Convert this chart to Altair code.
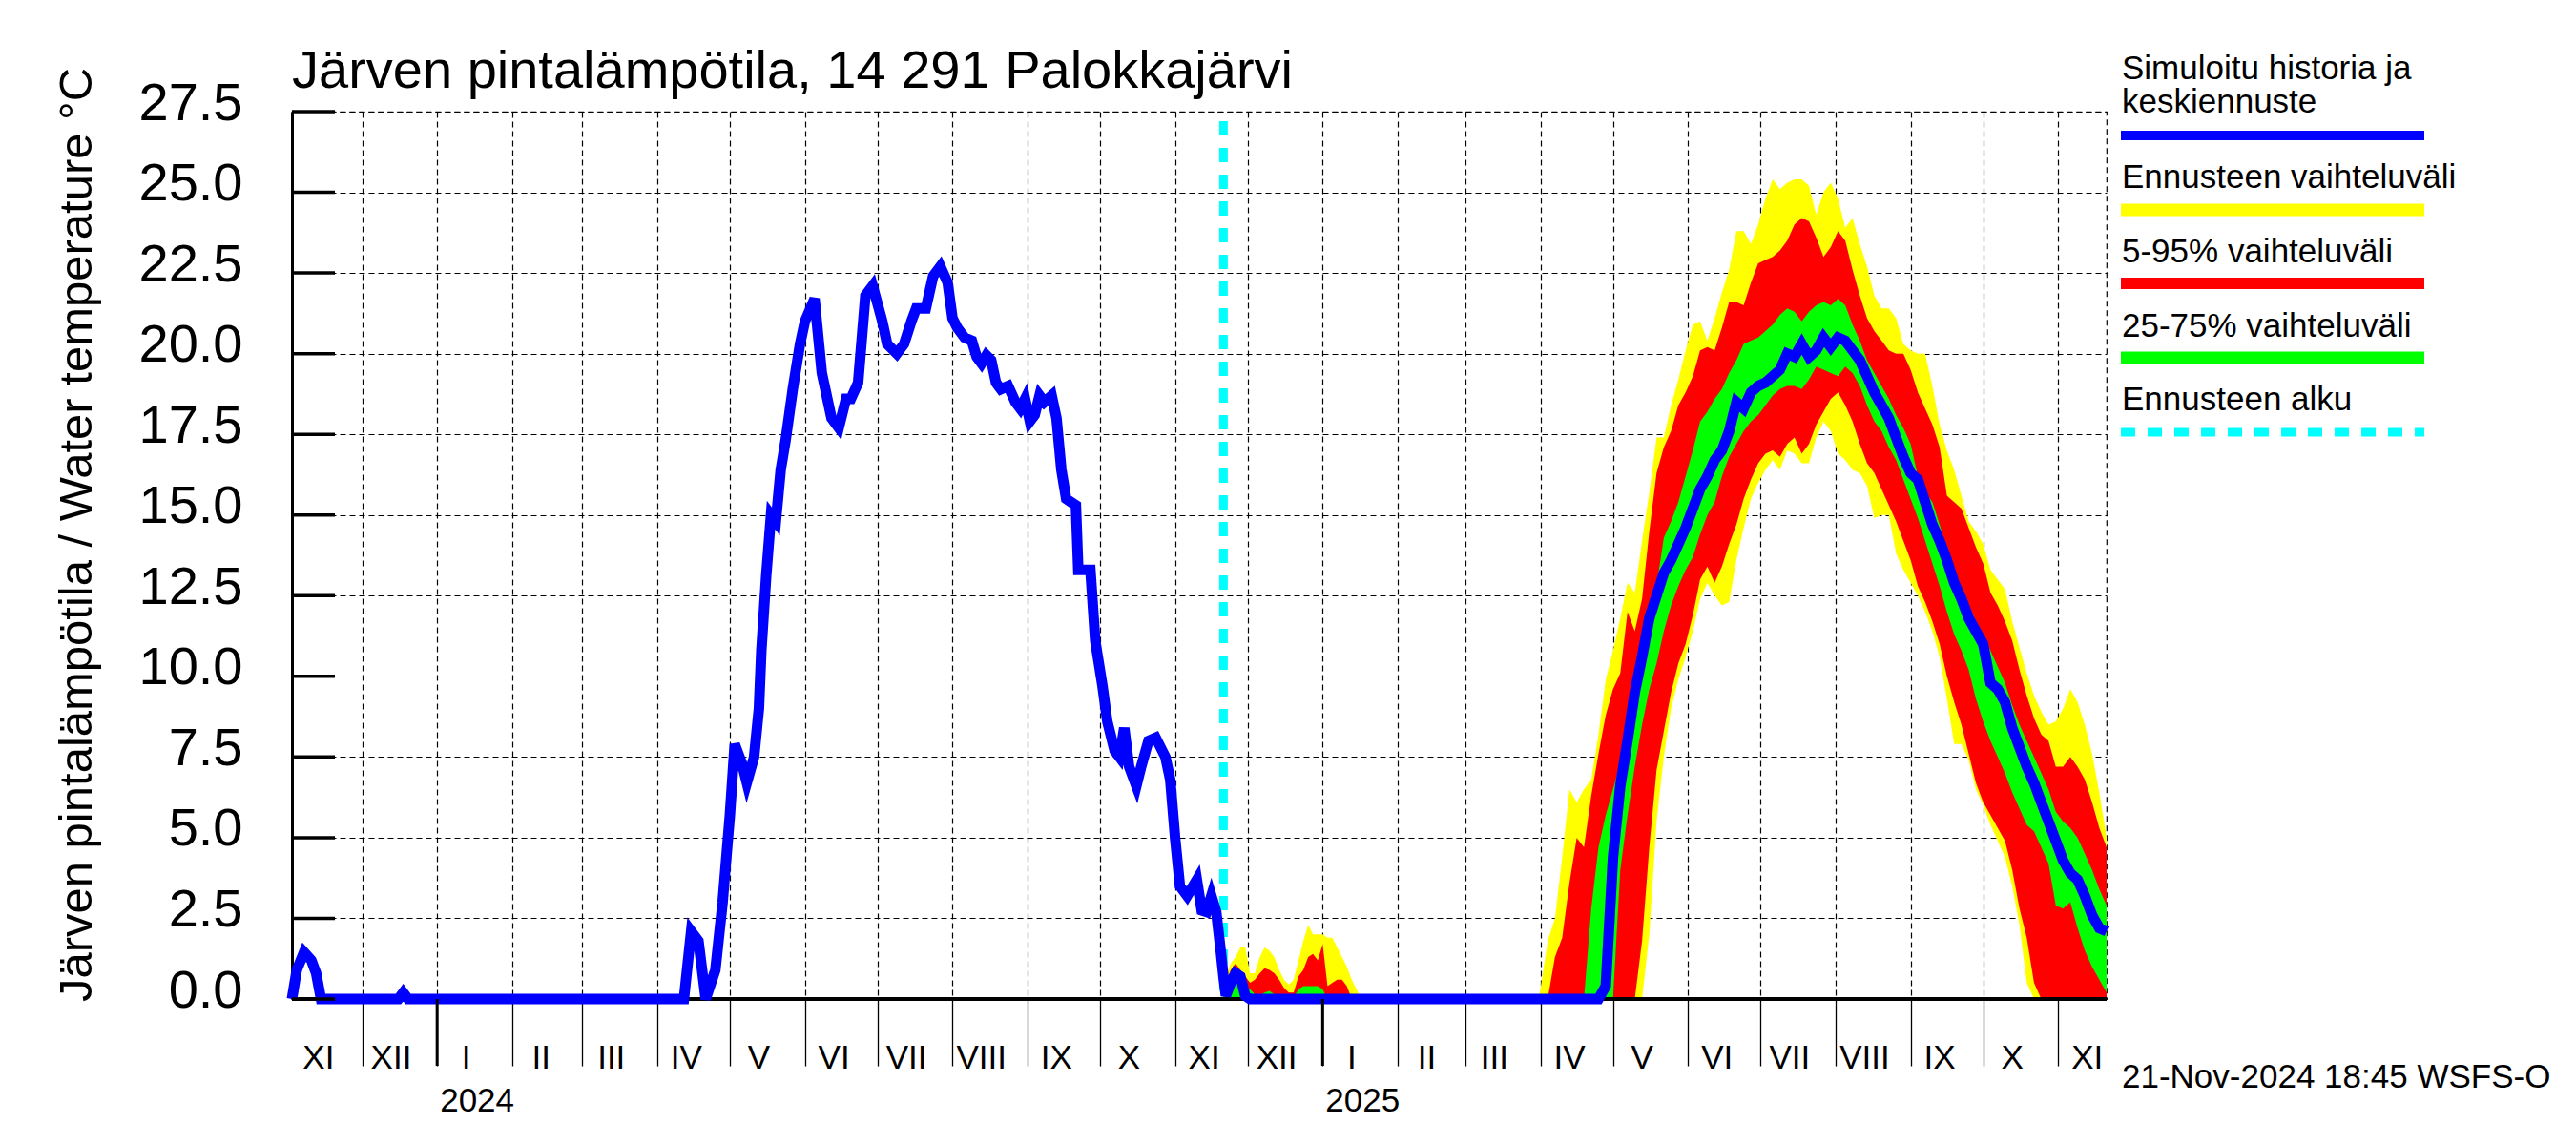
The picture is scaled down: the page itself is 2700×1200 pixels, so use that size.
import altair as alt
import pandas as pd

TITLE = "Järven pintalämpötila, 14 291 Palokkajärvi"
Y_TITLE = "Järven pintalämpötila / Water temperature °C"
STAMP = "21-Nov-2024 18:45 WSFS-O"
FONT = "Liberation Sans"

# ---------------- history (simulated) ----------------
hist_dates = [
    "2023-11-02", "2023-11-04", "2023-11-07", "2023-11-10", "2023-11-12", "2023-11-14",
    "2023-12-16", "2023-12-18", "2023-12-20", "2024-04-12", "2024-04-15", "2024-04-18",
    "2024-04-21", "2024-04-25", "2024-04-28", "2024-05-01", "2024-05-03", "2024-05-06",
    "2024-05-08", "2024-05-11", "2024-05-13", "2024-05-14", "2024-05-16", "2024-05-18",
    "2024-05-20", "2024-05-22", "2024-05-24", "2024-05-27", "2024-05-30", "2024-06-01",
    "2024-06-05", "2024-06-08", "2024-06-12", "2024-06-15", "2024-06-18", "2024-06-20",
    "2024-06-23", "2024-06-26", "2024-06-29", "2024-07-03", "2024-07-05", "2024-07-09",
    "2024-07-12", "2024-07-15", "2024-07-17", "2024-07-21", "2024-07-24", "2024-07-27",
    "2024-07-30", "2024-08-01", "2024-08-03", "2024-08-06", "2024-08-09", "2024-08-11",
    "2024-08-13", "2024-08-15", "2024-08-17", "2024-08-19", "2024-08-21", "2024-08-24",
    "2024-08-27", "2024-08-29", "2024-08-31", "2024-09-02", "2024-09-04", "2024-09-06",
    "2024-09-08", "2024-09-11", "2024-09-13", "2024-09-15", "2024-09-17", "2024-09-21",
    "2024-09-22", "2024-09-24", "2024-09-27", "2024-09-29", "2024-10-02", "2024-10-04",
    "2024-10-07", "2024-10-09", "2024-10-11", "2024-10-13", "2024-10-16", "2024-10-18",
    "2024-10-21", "2024-10-24", "2024-10-28", "2024-10-30", "2024-11-01", "2024-11-03",
    "2024-11-06", "2024-11-10", "2024-11-12", "2024-11-14", "2024-11-16", "2024-11-18",
    "2024-11-20",
]
hist_vals = [
    0.0, 0.9, 1.45, 1.2, 0.8, 0.0,
    0.0, 0.2, 0.0, 0.0, 2.1, 1.8,
    0.0, 0.9, 3.0, 5.7, 7.9, 7.3,
    6.7, 7.5, 9.0, 10.8, 13.1, 15.0,
    14.8, 16.4, 17.3, 18.9, 20.3, 21.0,
    21.7, 19.4, 18.0, 17.7, 18.6, 18.6,
    19.1, 21.8, 22.1, 21.0, 20.3, 20.0,
    20.3, 21.0, 21.4, 21.4, 22.4, 22.7,
    22.2, 21.1, 20.8, 20.5, 20.4, 19.9,
    19.7, 19.95, 19.8, 19.1, 18.9, 19.0,
    18.5, 18.3, 18.6, 17.9, 18.1, 18.7,
    18.5, 18.7, 18.0, 16.4, 15.5, 15.3,
    13.3, 13.3, 13.3, 11.1, 9.7, 8.6,
    7.7, 7.5, 8.4, 7.2, 6.6, 7.2,
    8.0, 8.1, 7.5, 6.8, 5.0, 3.5,
    3.2, 3.7, 2.75, 2.7, 3.2, 2.7,
    1.4,
]

# ---------------- forecast ----------------
fc_dates = [
    "2024-11-21", "2024-11-22", "2024-11-24", "2024-11-26", "2024-11-28", "2024-11-30",
    "2024-12-02", "2024-12-04", "2024-12-06", "2024-12-08", "2024-12-10", "2024-12-12",
    "2024-12-14", "2024-12-16", "2024-12-18", "2024-12-20", "2024-12-22", "2024-12-24",
    "2024-12-26", "2024-12-28", "2024-12-30", "2025-01-01", "2025-01-03", "2025-01-05",
    "2025-01-07", "2025-01-09", "2025-01-11", "2025-01-13", "2025-01-15", "2025-01-17",
    "2025-03-31",
    "2025-04-01", "2025-04-04", "2025-04-07", "2025-04-10", "2025-04-13", "2025-04-16",
    "2025-04-19", "2025-04-22", "2025-04-25", "2025-04-28",
    "2025-05-01", "2025-05-04", "2025-05-07", "2025-05-10", "2025-05-13", "2025-05-16",
    "2025-05-19", "2025-05-22", "2025-05-25", "2025-05-28", "2025-05-31",
    "2025-06-03", "2025-06-06", "2025-06-09", "2025-06-12", "2025-06-15", "2025-06-18",
    "2025-06-21", "2025-06-24", "2025-06-27", "2025-06-30",
    "2025-07-03", "2025-07-06", "2025-07-09", "2025-07-12", "2025-07-15", "2025-07-18",
    "2025-07-21", "2025-07-24", "2025-07-27", "2025-07-30",
    "2025-08-02", "2025-08-05", "2025-08-08", "2025-08-11", "2025-08-14", "2025-08-17",
    "2025-08-20", "2025-08-23", "2025-08-26", "2025-08-29",
    "2025-09-01", "2025-09-04", "2025-09-07", "2025-09-10", "2025-09-13", "2025-09-16",
    "2025-09-19", "2025-09-22", "2025-09-25", "2025-09-28",
    "2025-10-01", "2025-10-04", "2025-10-07", "2025-10-10", "2025-10-13", "2025-10-16",
    "2025-10-19", "2025-10-22", "2025-10-25", "2025-10-28", "2025-10-31",
    "2025-11-03", "2025-11-06", "2025-11-09", "2025-11-12", "2025-11-15", "2025-11-18",
    "2025-11-21",
]
fc_max = [
    0.7, 0.7, 1.1, 1.3, 1.6, 1.6, 0.8, 0.8, 1.3, 1.6, 1.5, 1.3, 0.9, 0.6, 0.45, 0.6,
    1.2, 1.8, 2.3, 2.0, 2.0, 2.0, 1.9, 1.9, 1.6, 1.3, 1.0, 0.6, 0.3, 0.0, 0.0,
    0.3, 1.8, 2.5, 4.4, 6.5, 6.1, 6.5, 6.8, 8.2, 9.9,
    10.8, 11.8, 12.9, 12.6, 14.2, 15.7, 17.4, 17.4, 18.4, 19.2, 20.1,
    20.9, 21.0, 20.4, 21.1, 21.9, 22.6, 23.8, 23.8, 23.4, 24.0,
    24.8, 25.4, 25.1, 25.3, 25.4, 25.4, 25.2, 24.3, 25.0, 25.3,
    24.8, 23.9, 24.2, 23.4, 22.7, 21.8, 21.4, 21.4, 21.1, 20.3,
    20.1, 20.0, 20.0, 19.0, 17.8, 17.0, 16.4, 15.6, 14.8, 14.5,
    14.1, 13.3, 13.0, 12.7, 11.7, 10.9, 10.1, 9.4, 8.9, 8.5, 8.6,
    9.0, 9.6, 9.2, 8.5, 7.6, 6.4, 5.0,
]
fc_p95 = [
    0.7, 0.5, 0.9, 1.1, 0.9, 0.7, 0.5, 0.6, 0.8, 0.95, 0.9, 0.8, 0.6, 0.35, 0.2, 0.2,
    0.7, 0.9, 1.3, 1.4, 1.2, 1.7, 0.4, 0.5, 0.6, 0.6, 0.4, 0.0, 0.0, 0.0, 0.0,
    0.0, 0.0, 1.3, 1.9, 3.6, 5.0, 4.7, 6.3, 7.6, 8.8,
    9.6, 10.1, 12.0, 11.4, 12.4, 14.5, 16.3, 17.1, 17.6, 18.4, 18.8,
    19.3, 20.1, 20.2, 20.1, 20.8, 21.6, 21.6, 21.5, 22.2, 22.8,
    22.9, 23.0, 23.2, 23.5, 24.0, 24.2, 24.1, 23.6, 23.0, 23.3,
    23.8, 23.5, 22.6, 21.8, 21.1, 20.7, 20.4, 20.1, 20.0, 20.0,
    19.5, 18.8, 18.3, 17.8, 17.1, 15.6, 15.4, 15.2, 14.6, 14.0,
    13.5, 12.6, 12.2, 11.7, 11.1, 10.2, 9.4, 8.7, 8.2, 8.0, 7.2,
    7.2, 7.5, 7.2, 6.8, 6.1, 5.3, 4.7,
]
fc_p75 = [
    0.7, 0.2, 0.6, 0.8, 0.7, 0.4, 0.3, 0.15, 0.1, 0.2, 0.25, 0.15, 0.1, 0.05, 0.0, 0.05,
    0.3, 0.4, 0.4, 0.4, 0.4, 0.3, 0.0, 0.0, 0.0, 0.0, 0.0, 0.0, 0.0, 0.0, 0.0,
    0.0, 0.0, 0.0, 0.0, 0.0, 0.0, 0.0, 2.8, 4.7, 5.7,
    6.5, 7.3, 8.6, 10.0, 11.0, 12.0, 12.8, 14.3, 14.8, 15.4, 16.2,
    17.0, 17.9, 18.2, 18.6, 18.9, 19.4, 19.8, 20.3, 20.4, 20.5,
    20.7, 20.9, 21.2, 21.4, 21.3, 21.0, 21.3, 21.5, 21.6, 21.5,
    21.7, 21.5, 20.9, 20.4, 19.8, 19.4, 19.0, 18.6, 18.1, 17.7,
    17.2, 16.2, 15.7, 15.4, 14.7, 13.9, 13.3, 12.6, 12.2, 11.7,
    11.3, 10.8, 10.3, 9.8, 9.1, 8.5, 8.0, 7.5, 7.0, 6.5, 5.8,
    5.5, 5.3, 5.0, 4.5, 4.0, 3.4, 2.9,
]
fc_med = [
    0.7, 0.1, 0.5, 0.8, 0.7, 0.1, 0.0, 0.0, 0.0, 0.0, 0.0, 0.0, 0.0, 0.0, 0.0, 0.0,
    0.0, 0.0, 0.0, 0.0, 0.0, 0.0, 0.0, 0.0, 0.0, 0.0, 0.0, 0.0, 0.0, 0.0, 0.0,
    0.0, 0.0, 0.0, 0.0, 0.0, 0.0, 0.0, 0.0, 0.0, 0.4,
    4.4, 6.6, 8.0, 9.5, 10.6, 11.8, 12.5, 13.2, 13.6, 14.1, 14.6,
    15.2, 15.8, 16.2, 16.7, 17.0, 17.6, 18.5, 18.3, 18.8, 19.0,
    19.1, 19.3, 19.5, 20.0, 19.9, 20.3, 19.9, 20.1, 20.5, 20.2,
    20.5, 20.4, 20.1, 19.8, 19.3, 18.8, 18.4, 18.0, 17.4, 16.8,
    16.3, 16.1, 15.4, 14.7, 14.2, 13.6, 12.9, 12.4, 11.8, 11.4,
    11.0, 9.8, 9.6, 9.2, 8.4, 7.8, 7.2, 6.7, 6.1, 5.5, 4.9,
    4.3, 3.9, 3.7, 3.2, 2.6, 2.2, 2.1,
]
fc_p25 = [0.0] * 31 + [
    0.0, 0.0, 0.0, 0.0, 0.0, 0.0, 0.0, 0.0, 0.0, 0.0,
    0.0, 4.0, 5.7, 7.2, 8.5, 9.6, 10.4, 11.4, 12.2, 12.8, 13.3,
    13.7, 14.4, 15.0, 15.4, 16.2, 16.8, 17.2, 17.6, 17.9, 18.1,
    18.4, 18.7, 18.9, 19.0, 19.0, 18.9, 19.2, 19.6, 19.5, 19.4,
    19.3, 19.6, 19.4, 19.0, 18.4, 17.9, 17.6, 17.1, 16.7, 16.1,
    15.5, 14.9, 14.2, 13.5, 12.8, 12.0, 11.3, 10.8, 10.2, 9.3,
    8.6, 8.0, 7.5, 7.0, 6.4, 5.9, 5.4, 5.2, 4.7, 4.2, 2.9,
    2.8, 3.0, 2.2, 1.5, 1.0, 0.6, 0.2,
]
fc_p05 = [0.0] * 31 + [
    0.0, 0.0, 0.0, 0.0, 0.0, 0.0, 0.0, 0.0, 0.0, 0.0,
    0.0, 0.0, 0.0, 0.0, 1.8, 4.7, 7.1, 8.3, 9.5, 10.4, 11.0,
    11.9, 13.0, 13.4, 12.9, 13.4, 14.1, 14.7, 15.5, 16.1, 16.6,
    16.9, 17.0, 16.8, 17.2, 17.4, 16.9, 17.2, 17.8, 18.2, 18.6,
    18.8, 18.4, 17.9, 17.2, 16.6, 16.3, 15.8, 15.3, 14.8, 14.2,
    13.6, 12.8, 12.3, 11.7, 11.0, 10.0, 9.2, 8.5, 7.6, 6.7,
    6.1, 5.7, 5.3, 4.9, 4.0, 2.8, 1.9, 0.5, 0.0, 0.0, 0.0,
    0.0, 0.0, 0.0, 0.0, 0.0, 0.0, 0.0,
]
fc_min = [0.0] * 31 + [
    0.0, 0.0, 0.0, 0.0, 0.0, 0.0, 0.0, 0.0, 0.0, 0.0,
    0.0, 0.0, 0.0, 0.0, 0.0, 2.0, 5.5, 7.5, 9.0, 9.9, 10.6,
    11.4, 12.4, 12.9, 12.5, 12.2, 12.3, 13.6, 14.6, 15.5, 16.0,
    16.4, 16.7, 16.4, 17.0, 16.9, 16.6, 16.6, 17.4, 17.9, 17.6,
    16.9, 16.7, 16.4, 16.3, 15.9, 14.9, 15.0, 15.0, 13.8, 13.3,
    12.9, 12.5, 12.0, 11.4, 10.6, 9.3, 7.9, 7.9, 7.4, 6.5,
    6.0, 5.4, 4.9, 4.4, 3.5, 2.3, 0.5, 0.0, 0.0, 0.0, 0.0,
    0.0, 0.0, 0.0, 0.0, 0.0, 0.0, 0.0,
]

forecast_start = ["2024-11-21"]

month_labels = ["XI", "XII", "I", "II", "III", "IV", "V", "VI", "VII", "VIII", "IX", "X",
                "XI", "XII", "I", "II", "III", "IV", "V", "VI", "VII", "VIII", "IX", "X", "XI"]
month_label_dates = [
    "2023-11-13", "2023-12-13", "2024-01-13", "2024-02-13", "2024-03-13", "2024-04-13",
    "2024-05-13", "2024-06-13", "2024-07-13", "2024-08-13", "2024-09-13", "2024-10-13",
    "2024-11-13", "2024-12-13", "2025-01-13", "2025-02-13", "2025-03-13", "2025-04-13",
    "2025-05-13", "2025-06-13", "2025-07-13", "2025-08-13", "2025-09-13", "2025-10-13",
    "2025-11-13",
]
year_dates = ["2024-01-01", "2025-01-01"]
year_labels = ["2024", "2025"]
y_ticks = [0.0, 2.5, 5.0, 7.5, 10.0, 12.5, 15.0, 17.5, 20.0, 22.5, 25.0, 27.5]

legend_labels = ["Simuloitu historia ja\nkeskiennuste", "Ennusteen vaihteluväli",
                 "5-95% vaihteluväli", "25-75% vaihteluväli", "Ennusteen alku"]

# ---------------- tables ----------------
hist = pd.DataFrame({"date": pd.to_datetime(hist_dates), "v": hist_vals})
fc = pd.DataFrame({
    "date": pd.to_datetime(fc_dates), "mn": fc_min, "p05": fc_p05, "p25": fc_p25,
    "med": fc_med, "p75": fc_p75, "p95": fc_p95, "mx": fc_max,
})
blue = pd.concat([hist, pd.DataFrame({"date": fc["date"], "v": fc["med"]})], ignore_index=True)
fstart = pd.DataFrame({"date": pd.to_datetime(forecast_start)})
months = pd.DataFrame({"date": pd.to_datetime(month_label_dates), "lab": month_labels})
years = pd.DataFrame({"date": pd.to_datetime(year_dates), "lab": year_labels})
yt = pd.DataFrame({"v": y_ticks})
zero = pd.DataFrame({"v": [0.0]})

W, H = 1902, 930

month_ticks = []
for y in (2023, 2024, 2025):
    for m in range(1, 13):
        if (y == 2023 and m < 12) or (y == 2025 and m > 11):
            continue
        month_ticks.append(alt.DateTime(year=y, month=m, date=1))

xs = alt.Scale(domain=[alt.DateTime(year=2023, month=11, date=2),
                       alt.DateTime(year=2025, month=11, date=21)])
xaxis = alt.Axis(values=month_ticks, labels=False, ticks=True, tickSize=70,
                 tickColor="black", tickWidth=1.3, domain=False, grid=True,
                 gridColor="black", gridDash=[6, 4], gridWidth=1.2, gridOpacity=1,
                 title=None)
ys = alt.Scale(domain=[0, 27.5], nice=False, zero=False)
yaxis = alt.Axis(values=y_ticks, format=".1f", title=Y_TITLE, titleFontSize=49,
                 titleFontWeight="normal", titleColor="black", titleX=-226, titleY=443,
                 titleBaseline="middle", titleFont=FONT,
                 labelFontSize=56, labelColor="black", labelPadding=52, labelOffset=-9,
                 labelFont=FONT, ticks=False, tickSize=0, domainColor="black",
                 domainWidth=3, grid=True, gridColor="black", gridDash=[6, 4],
                 gridWidth=1.2, gridOpacity=1)


def X(field):
    return alt.X(field, type="temporal", scale=xs, axis=xaxis, title=None)


def Y(field):
    return alt.Y(field, type="quantitative", scale=ys, axis=yaxis)


band_max = alt.Chart(fc).mark_area(color="#FFFF00", opacity=1).encode(
    x=X("date"), y=Y("mn"), y2="mx")
band_90 = alt.Chart(fc).mark_area(color="#FF0000", opacity=1).encode(
    x=X("date"), y=Y("p05"), y2="p95")
band_50 = alt.Chart(fc).mark_area(color="#00FF00", opacity=1).encode(
    x=X("date"), y=Y("p25"), y2="p75")
zero_line = alt.Chart(zero).mark_rule(color="black", strokeWidth=4).encode(y=Y("v"))
cyan = alt.Chart(fstart).mark_rule(color="#00FFFF", strokeWidth=9, strokeDash=[15, 13],
                                   strokeDashOffset=18).encode(x=X("date"))
blue_line = alt.Chart(blue).mark_line(color="#0000FF", strokeWidth=11).encode(
    x=X("date"), y=Y("v"))
y_in_ticks = alt.Chart(yt).mark_rule(color="black", strokeWidth=3.5).encode(
    y=Y("v"), x=alt.value(0), x2=alt.value(45))
year_ticks = alt.Chart(years).mark_rule(color="black", strokeWidth=3).encode(
    x=X("date"), y=alt.value(H), y2=alt.value(H + 70))
month_text = alt.Chart(months).mark_text(
    fontSize=35, align="center", baseline="alphabetic", color="black", font=FONT).encode(
    x=X("date"), y=alt.value(H + 73), text="lab:N")
year_text = alt.Chart(years).mark_text(
    fontSize=35, align="left", baseline="alphabetic", dx=3, color="black", font=FONT).encode(
    x=X("date"), y=alt.value(H + 118), text="lab:N")
stamp = alt.Chart(pd.DataFrame({"t": [STAMP]})).mark_text(
    fontSize=35, align="left", baseline="alphabetic", color="black", font=FONT).encode(
    x=alt.value(W + 16), y=alt.value(H + 93), text="t:N")

LX = W + 16
leg_layers = []
text_y = [-34, 80, 158, 236, 313]
for lab, ty in zip(legend_labels, text_y):
    leg_layers.append(
        alt.Chart(pd.DataFrame({"t": [lab]})).mark_text(
            fontSize=35, align="left", baseline="alphabetic", lineBreak="\n",
            lineHeight=35, color="black", font=FONT).encode(
            x=alt.value(LX), y=alt.value(ty), text="t:N"))

leg_lines = [("#0000FF", 10, 25, None), ("#FFFF00", 13, 103, None),
             ("#FF0000", 12, 180, None), ("#00FF00", 13, 258, None),
             ("#00FFFF", 9, 336, [15, 13])]
for i, (col, sw, ly, dash) in enumerate(leg_lines):
    kw = dict(color=col, strokeWidth=sw)
    if dash:
        kw["strokeDash"] = dash
    leg_layers.append(
        alt.Chart(pd.DataFrame({"t": [legend_labels[i]]})).mark_rule(**kw).encode(
            x=alt.value(LX - 1), x2=alt.value(LX + 317), y=alt.value(ly)))

chart = alt.layer(
    band_max, band_90, band_50, zero_line, cyan, blue_line, y_in_ticks,
    year_ticks, month_text, year_text, stamp, *leg_layers
).properties(
    width=W, height=H,
    title=alt.TitleParams(text=TITLE, anchor="start", fontSize=56, fontWeight="normal",
                          color="black", offset=0, dy=49, frame="group", font=FONT),
    autosize=alt.AutoSizeParams(type="none"),
    padding={"left": 298, "top": 109, "right": 484, "bottom": 145},
).configure(font=FONT).configure_view(
    stroke="black", strokeDash=[6, 4], strokeWidth=1.2
)

chart.save("out.html", embed_options={"renderer": "svg", "actions": False})
